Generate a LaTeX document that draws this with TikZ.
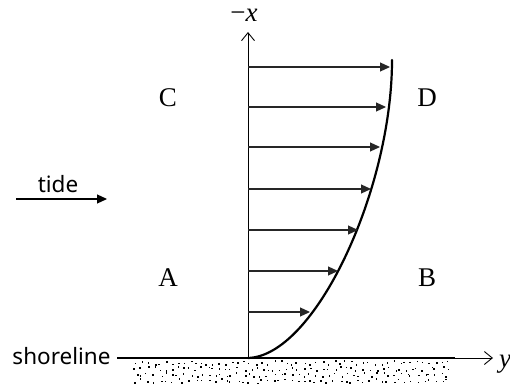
\documentclass[tikz,border=0pt]{standalone}
\usepackage{fontspec}
\setmainfont{Liberation Serif}
\newfontfamily\labsans{Noto Sans}
\usetikzlibrary{arrows.meta}
\tikzset{
  letter/.style={font=\fontsize{27}{30}\selectfont, anchor=base, inner sep=0pt},
  sanslabel/.style={font=\labsans\fontsize{22.5}{25}\selectfont, anchor=base, inner sep=0pt},
  axisline/.style={line width=0.9pt, -{Straight Barb[length=8pt,width=13pt,line width=0.9pt]}},
  velarrow/.style={line width=1.2pt, black!85, -{Triangle[length=10pt,width=9pt]}},
  profile/.style={line width=2.2pt, line cap=round},
  shore/.style={line width=2.5pt},
  sand/.style={fill=black}
}
\begin{document}
\begin{tikzpicture}[x=1pt,y=-1pt]
\useasboundingbox (0,0) rectangle (510,387);
% sand dots
\pgfmathsetseed{7}
\foreach \yy in {363,369,375,381}{
  \foreach \xx in {136,142,...,452}{
    \pgfmathsetmacro{\dx}{2.6*rand}
    \pgfmathsetmacro{\dy}{2.2*rand}
    \fill[sand] (\xx+\dx-0.7,\yy+\dy-0.7) rectangle ++(1.5,1.5);
  }
}
% coordinates
\coordinate (O) at (248,358);
\coordinate (ctop) at (392,60);
\coordinate (xtop) at (248,32);
\coordinate (sl) at (117,358);
\coordinate (se) at (455,358);
\coordinate (ytip) at (493,358);
% axes
\draw[axisline] (O) -- (xtop);
\draw[shore] (sl) -- (se);
\draw[axisline] (se) -- (ytip);
% profile curve
\draw[profile] (O) .. controls (315,356) and (392,190) .. (ctop);
% velocity arrows
\foreach \i/\yy/\tx in {1/67/390, 2/107/386, 3/147/380, 4/189/371, 5/230/358, 6/271/338, 7/312/310}{
  \coordinate (a\i) at (248,\yy);
  \coordinate (b\i) at (\tx,\yy);
  \draw[velarrow] (a\i) -- (b\i);
}
% tide arrow
\coordinate (t1) at (16,199);
\coordinate (t2) at (107,199);
\draw[velarrow, black] (t1) -- (t2);
\node[sanslabel] (tide) at (58,192) {tide};
\node[sanslabel] (shoreline) at (61.5,364) {shoreline};
% region letters
\node[letter] (C) at (168,107) {C};
\node[letter] (D) at (427,107) {D};
\node[letter] (A) at (168,286) {A};
\node[letter] (B) at (427,286) {B};
% axis labels
\node[letter] (xlab) at (244,22) {−\textit{x}};
\node[letter, anchor=base west] (ylab) at (499,367) {\textit{y}};
\end{tikzpicture}
\end{document}
